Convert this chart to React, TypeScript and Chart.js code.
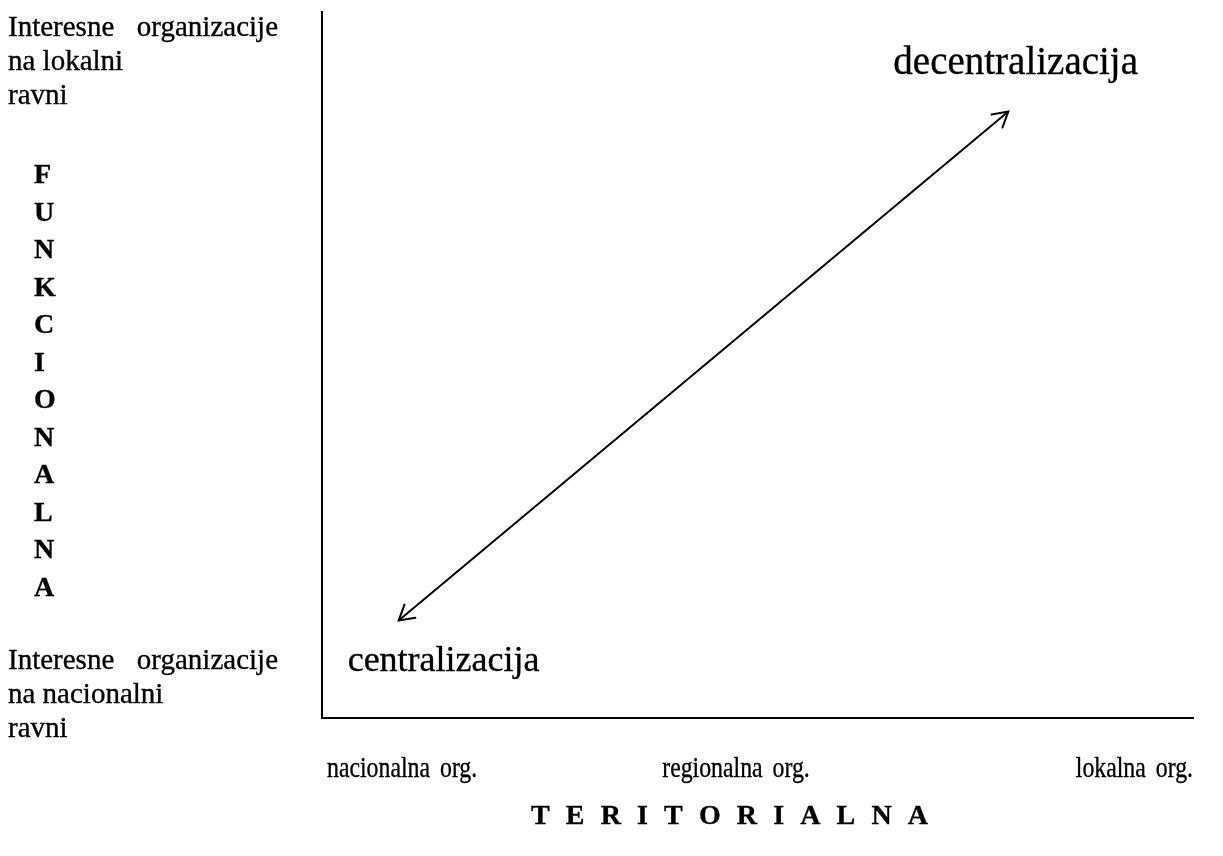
import React, { useEffect, useRef } from "react";
import { Chart, registerables } from "chart.js";

Chart.register(...registerables);

// ---- data ----
const arrowX = [0.88, 7.88];
const arrowY = [1.38, 8.59];
const endLabels = ["centralizacija", "decentralizacija"];
const xCategoryLabels = ["nacionalna", "regionalna", "lokalna"];
const xCategorySuffix = "org.";
const xAxisTitle = "TERITORIALNA";
const yAxisTitle = "FUNKCIONALNA";
const yTopLabel = ["Interesne", "organizacije", "na lokalni", "ravni"];
const yBottomLabel = ["Interesne", "organizacije", "na nacionalni", "ravni"];

const FONT = '"Liberation Serif", "Times New Roman", serif';

const arrowPlugin = {
  id: "arrowHeads",
  afterDatasetsDraw(chart: any) {
    const meta = chart.getDatasetMeta(0);
    const pts = meta.data;
    if (!pts || pts.length < 2) return;
    const ctx = chart.ctx;
    const a = pts[0];
    const b = pts[pts.length - 1];
    const ang = Math.atan2(b.y - a.y, b.x - a.x);
    const len = 17;
    const spread = Math.PI / 6;
    ctx.save();
    ctx.strokeStyle = "#000";
    ctx.lineWidth = 2;
    ctx.lineCap = "round";
    const head = (x: number, y: number, dir: number) => {
      ctx.beginPath();
      ctx.moveTo(x - len * Math.cos(dir - spread), y - len * Math.sin(dir - spread));
      ctx.lineTo(x, y);
      ctx.lineTo(x - len * Math.cos(dir + spread), y - len * Math.sin(dir + spread));
      ctx.stroke();
    };
    head(b.x, b.y, ang);
    head(a.x, a.y, ang + Math.PI);
    ctx.restore();
  },
};

const textPlugin = {
  id: "texts",
  afterDraw(chart: any) {
    const ctx = chart.ctx;
    const area = chart.chartArea;
    const xs = chart.scales.x;
    const ys = chart.scales.y;
    ctx.save();
    ctx.fillStyle = "#000";
    ctx.strokeStyle = "#000";
    ctx.lineWidth = 0.35;
    ctx.textBaseline = "alphabetic";
    ctx.textAlign = "left";
    const put = (t: string, x: number, y: number) => {
      ctx.fillText(t, x, y);
      ctx.strokeText(t, x, y);
    };

    // end labels near arrow tips
    ctx.font = `36px ${FONT}`;
    put(endLabels[0], xs.getPixelForValue(arrowX[0]) - 51, ys.getPixelForValue(arrowY[0]) + 50);
    ctx.font = `39px ${FONT}`;
    put(endLabels[1], xs.getPixelForValue(arrowX[1]) - 115, ys.getPixelForValue(arrowY[1]) - 38);

    // left side labels
    ctx.font = `29px ${FONT}`;
    const leftX = 8;
    const rightX = 278;
    const lh = 34;
    let y0 = 36;
    ctx.textAlign = "left";
    put(yTopLabel[0], leftX, y0);
    ctx.textAlign = "right";
    put(yTopLabel[1], rightX, y0);
    ctx.textAlign = "left";
    put(yTopLabel[2], leftX, y0 + lh);
    put(yTopLabel[3], leftX, y0 + 2 * lh);

    y0 = 669;
    put(yBottomLabel[0], leftX, y0);
    ctx.textAlign = "right";
    put(yBottomLabel[1], rightX, y0);
    ctx.textAlign = "left";
    put(yBottomLabel[2], leftX, y0 + lh);
    put(yBottomLabel[3], leftX, y0 + 2 * lh);

    // vertical axis title
    ctx.font = `bold 28px ${FONT}`;
    ctx.textAlign = "left";
    yAxisTitle.split("").forEach((ch, i) => {
      put(ch, 34, 183 + i * 37.5);
    });

    // x categories (slightly condensed)
    ctx.font = `29px ${FONT}`;
    const sx = 0.82;
    const gap = 10;
    const catY = area.bottom + 59;
    const drawCat = (i: number, x: number, align: string) => {
      const w1 = ctx.measureText(xCategoryLabels[i]).width * sx;
      const w2 = ctx.measureText(xCategorySuffix).width * sx;
      const total = w1 + gap + w2;
      let start = x;
      if (align === "center") start = x - total / 2;
      if (align === "right") start = x - total;
      ctx.save();
      ctx.translate(start, catY);
      ctx.scale(sx, 1);
      put(xCategoryLabels[i], 0, 0);
      put(xCategorySuffix, (w1 + gap) / sx, 0);
      ctx.restore();
    };
    drawCat(0, area.left + 5, "left");
    drawCat(1, 736, "center");
    drawCat(2, area.right, "right");

    // x axis title (spaced letters)
    ctx.font = `bold 28px ${FONT}`;
    const tl = xAxisTitle.split("");
    const widths = tl.map((c) => ctx.measureText(c).width);
    const totalW = 397;
    const sumW = widths.reduce((s, w) => s + w, 0);
    const sp = (totalW - sumW) / (tl.length - 1);
    let tx = 531;
    tl.forEach((c, i) => {
      put(c, tx, area.bottom + 106);
      tx += widths[i] + sp;
    });

    ctx.restore();
  },
};

export default function App() {
  const ref = useRef<HTMLCanvasElement | null>(null);
  useEffect(() => {
    if (!ref.current) return;
    const chart = new Chart(ref.current, {
      type: "scatter",
      data: {
        datasets: [
          {
            data: arrowX.map((x, i) => ({ x, y: arrowY[i] })),
            showLine: true,
            borderColor: "#000",
            borderWidth: 2,
            pointRadius: 0,
            fill: false,
          },
        ],
      },
      options: {
        animation: false,
        responsive: false,
        devicePixelRatio: 1,
        layout: { padding: { left: 314, top: 12, right: 30, bottom: 130 } },
        plugins: { legend: { display: false }, tooltip: { enabled: false } },
        scales: {
          x: {
            type: "linear",
            min: 0,
            max: 10,
            grid: { display: false },
            ticks: { display: false },
            border: { display: true, color: "#000", width: 2 },
          },
          y: {
            type: "linear",
            min: 0,
            max: 10,
            grid: { display: false },
            ticks: { display: false },
            border: { display: true, color: "#000", width: 2 },
          },
        },
      },
      plugins: [arrowPlugin, textPlugin],
    });
    return () => chart.destroy();
  }, []);
  return (
    <div style={{ position: "fixed", left: 0, top: 0, width: 1223, height: 856, background: "#fff" }}>
      <canvas ref={ref} width={1223} height={856} style={{ display: "block" }} />
    </div>
  );
}
